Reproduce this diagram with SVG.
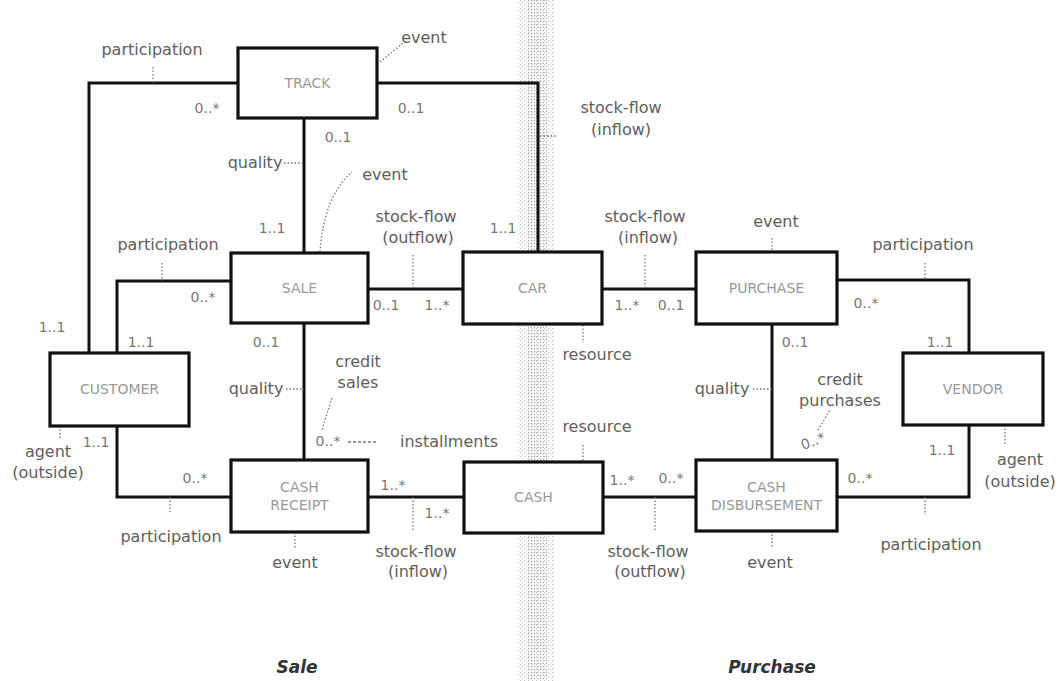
<svg xmlns="http://www.w3.org/2000/svg" width="1059" height="681" viewBox="0 0 1059 681">
<defs>
<pattern id="dots" width="4" height="4" patternUnits="userSpaceOnUse">
<rect x="0" y="0" width="1.2" height="1.2" fill="#c4c4c4"/>
<rect x="2" y="2" width="1.2" height="1.2" fill="#d4d4d4"/>
</pattern>
<pattern id="dots2" width="3" height="3" patternUnits="userSpaceOnUse">
<rect x="0" y="0" width="1.2" height="1.2" fill="#aaa"/>
</pattern>
</defs>
<style>
.conn{fill:none;stroke:#111;stroke-width:3;stroke-linejoin:miter}
.lead{fill:none;stroke:#777;stroke-width:1.3;stroke-dasharray:1.5 2}
.box{fill:#fff;stroke:#111;stroke-width:3.2}
.nl{font-family:"DejaVu Sans",sans-serif;font-size:14px;fill:#999;text-anchor:middle}
.lb{font-family:"DejaVu Sans",sans-serif;font-size:16px;fill:#5e5e5e;text-anchor:middle}
.m{font-family:"DejaVu Sans",sans-serif;font-size:14px;fill:#777;text-anchor:middle}
.sec{font-family:"DejaVu Sans",sans-serif;font-size:17px;font-weight:bold;font-style:italic;fill:#333;text-anchor:middle}
</style>
<rect x="518" y="0" width="36" height="681" fill="url(#dots)"/>
<rect x="527" y="0" width="20" height="681" fill="url(#dots2)"/>
<g id="connectors">
<path class="conn" d="M238,83 H89 V353"/>
<path class="conn" d="M377,83 H538 V252"/>
<path class="conn" d="M304,118 V253"/>
<path class="conn" d="M231,281 H117 V353"/>
<path class="conn" d="M368,289 H463"/>
<path class="conn" d="M602,289 H696"/>
<path class="conn" d="M837,280 H969 V353"/>
<path class="conn" d="M304,323 V460"/>
<path class="conn" d="M772,324 V460"/>
<path class="conn" d="M117,426 V497 H231"/>
<path class="conn" d="M368,497 H464"/>
<path class="conn" d="M603,497 H696"/>
<path class="conn" d="M837,497 H969 V425"/>
<path class="lead" d="M153,67 V83"/>
<path class="lead" d="M380,62 L403,43"/>
<path class="lead" d="M284,163 H304"/>
<path class="lead" d="M320,252 Q324,196 352,172"/>
<path class="lead" d="M540,136 H557"/>
<path class="lead" d="M162,263 V281"/>
<path class="lead" d="M413,255 V289"/>
<path class="lead" d="M645,255 V289"/>
<path class="lead" d="M583,325 V343"/>
<path class="lead" d="M286,389 H304"/>
<path class="lead" d="M583,445 V462"/>
<path class="lead" d="M332,398 L322,430"/>
<path class="lead" d="M348,442 H377" style="stroke-dasharray:3 2"/>
<path class="lead" d="M772,238 V252"/>
<path class="lead" d="M925,263 V280"/>
<path class="lead" d="M753,389 H772"/>
<path class="lead" d="M818,430 L830,410"/>
<path class="lead" d="M1005,425 V445"/>
<path class="lead" d="M925,497 V515"/>
<path class="lead" d="M772,531 V548"/>
<path class="lead" d="M60,426 V440"/>
<path class="lead" d="M170,497 V512"/>
<path class="lead" d="M295,532 V548"/>
<path class="lead" d="M413,497 V530"/>
<path class="lead" d="M655,497 V530"/>
</g>
<g id="track"><rect class="box" x="238" y="48" width="139" height="70"/><text class="nl" x="307.5" y="88">TRACK</text></g>
<g id="sale"><rect class="box" x="231" y="253" width="137" height="70"/><text class="nl" x="299.5" y="293">SALE</text></g>
<g id="car"><rect class="box" x="463" y="252" width="139" height="72"/><text class="nl" x="532.5" y="293">CAR</text></g>
<g id="purchase"><rect class="box" x="696" y="252" width="141" height="72"/><text class="nl" x="766.5" y="293">PURCHASE</text></g>
<g id="vendor"><rect class="box" x="903" y="353" width="140" height="72"/><text class="nl" x="973" y="394">VENDOR</text></g>
<g id="customer"><rect class="box" x="50" y="353" width="139" height="73"/><text class="nl" x="119.5" y="394">CUSTOMER</text></g>
<g id="cash-receipt"><rect class="box" x="231" y="460" width="137" height="72"/><text class="nl" x="299.5" y="492">CASH</text><text class="nl" x="299.5" y="510">RECEIPT</text></g>
<g id="cash"><rect class="box" x="464" y="462" width="139" height="71"/><text class="nl" x="533.5" y="502">CASH</text></g>
<g id="cash-disbursement"><rect class="box" x="696" y="460" width="141" height="71"/><text class="nl" x="766.5" y="492">CASH</text><text class="nl" x="766.5" y="510">DISBURSEMENT</text></g>
<g id="labels">
<text class="lb" x="152" y="55">participation</text>
<text class="lb" x="424" y="43">event</text>
<text class="m" x="207" y="113">0..*</text>
<text class="m" x="411" y="113">0..1</text>
<text class="m" x="338" y="142">0..1</text>
<text class="lb" x="255" y="168">quality</text>
<text class="lb" x="385" y="180">event</text>
<text class="lb" x="621" y="113">stock-flow</text>
<text class="lb" x="621" y="135">(inflow)</text>
<text class="m" x="272" y="233">1..1</text>
<text class="lb" x="168" y="250">participation</text>
<text class="m" x="203" y="302">0..*</text>
<text class="m" x="52" y="332">1..1</text>
<text class="m" x="141" y="347">1..1</text>
<text class="m" x="266" y="347">0..1</text>
<text class="lb" x="416" y="222">stock-flow</text>
<text class="lb" x="418" y="243">(outflow)</text>
<text class="m" x="503" y="233">1..1</text>
<text class="m" x="386" y="310">0..1</text>
<text class="m" x="437" y="310">1..*</text>
<text class="lb" x="645" y="222">stock-flow</text>
<text class="lb" x="648" y="243">(inflow)</text>
<text class="m" x="627" y="310">1..*</text>
<text class="m" x="671" y="310">0..1</text>
<text class="lb" x="597" y="360">resource</text>
<text class="lb" x="358" y="367">credit</text>
<text class="lb" x="358" y="388">sales</text>
<text class="lb" x="256" y="394">quality</text>
<text class="lb" x="597" y="432">resource</text>
<text class="m" x="328" y="446">0..*</text>
<text class="lb" x="449" y="447">installments</text>
<text class="lb" x="776" y="227">event</text>
<text class="lb" x="923" y="250">participation</text>
<text class="m" x="866" y="308">0..*</text>
<text class="m" x="940" y="347">1..1</text>
<text class="m" x="795" y="347">0..1</text>
<text class="lb" x="722" y="394">quality</text>
<text class="lb" x="840" y="385">credit</text>
<text class="lb" x="840" y="406">purchases</text>
<text class="m" x="813" y="446" transform="rotate(-20 813 441)">0..*</text>
<text class="m" x="942" y="455">1..1</text>
<text class="lb" x="1020" y="465">agent</text>
<text class="lb" x="1020" y="487">(outside)</text>
<text class="m" x="860" y="483">0..*</text>
<text class="lb" x="931" y="550">participation</text>
<text class="lb" x="770" y="568">event</text>
<text class="lb" x="48" y="457">agent</text>
<text class="lb" x="48" y="478">(outside)</text>
<text class="m" x="96" y="447">1..1</text>
<text class="m" x="195" y="483">0..*</text>
<text class="lb" x="171" y="542">participation</text>
<text class="lb" x="295" y="568">event</text>
<text class="m" x="393" y="490">1..*</text>
<text class="m" x="437" y="518">1..*</text>
<text class="lb" x="416" y="557">stock-flow</text>
<text class="lb" x="418" y="577">(inflow)</text>
<text class="m" x="622" y="485">1..*</text>
<text class="m" x="671" y="483">0..*</text>
<text class="lb" x="648" y="557">stock-flow</text>
<text class="lb" x="650" y="577">(outflow)</text>
<text class="sec" x="297" y="673">Sale</text>
<text class="sec" x="772" y="673">Purchase</text>
</g>
</svg>
